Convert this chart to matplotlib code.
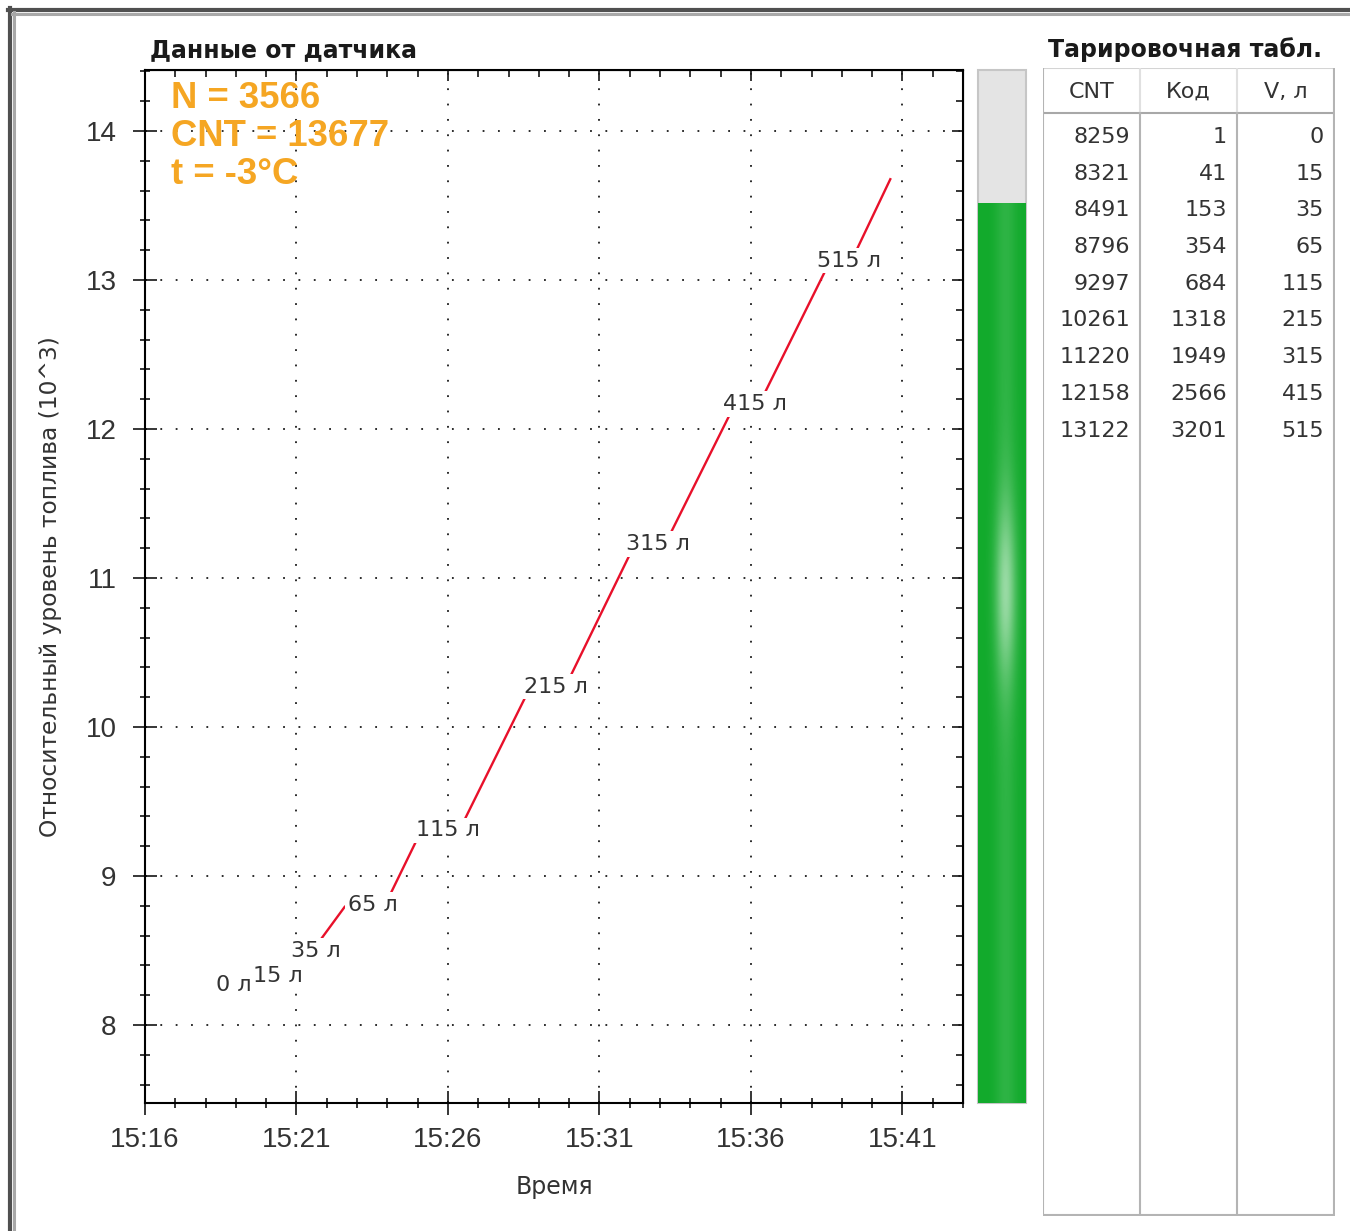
import matplotlib
matplotlib.use('Agg')
import matplotlib.pyplot as plt
from matplotlib.lines import Line2D
from matplotlib.ticker import MultipleLocator, FuncFormatter, NullFormatter
import numpy as np
from datetime import datetime, timedelta

plt.rcParams['font.family'] = ['Liberation Sans', 'DejaVu Sans']

# sensor trace: minutes after 15:16 and CNT value
t_min = [2.35, 2.95, 3.1, 5.15, 5.25, 5.5, 6.6, 7.9, 9.1, 10.35, 12.7, 13.85,
         16.15, 17.15, 19.45, 20.25, 22.6, 23.3, 24.6]
cnt_trace = [8259, 8259, 8321, 8321, 8491, 8491, 8796, 8796, 9297, 9297,
             10261, 10261, 11220, 11220, 12158, 12158, 13122, 13122, 13677]

# calibration table
cal_cnt = [8259, 8321, 8491, 8796, 9297, 10261, 11220, 12158, 13122]
cal_code = [1, 41, 153, 354, 684, 1318, 1949, 2566, 3201]
cal_vol = [0, 15, 35, 65, 115, 215, 315, 415, 515]
table_head = ['CNT', 'Код', 'V, л']

# current readings
n_value = 3566
n_max = 4095
cnt_now = 13677
temp_c = -3

base = datetime(2024, 1, 1, 15, 16)
W, H = 1350, 1231
TXT = '#333333'


def fr(x0, y0, x1, y1):
    # pixel box -> figure fraction rect
    return [x0 / W, 1 - y1 / H, (x1 - x0) / W, (y1 - y0) / H]


fig = plt.figure(figsize=(W / 100, H / 100), dpi=100)

# window frame
fig.add_artist(Line2D([10 / W, 10 / W], [0, 1 - 8 / H], transform=fig.transFigure, color='#505050', lw=3))
fig.add_artist(Line2D([8 / W, 1], [1 - 10 / H, 1 - 10 / H], transform=fig.transFigure, color='#505050', lw=3))
fig.add_artist(Line2D([13.5 / W, 13.5 / W], [0, 1 - 12 / H], transform=fig.transFigure, color='#a8a8a8', lw=2.2))
fig.add_artist(Line2D([12 / W, 1], [1 - 13.5 / H, 1 - 13.5 / H], transform=fig.transFigure, color='#a8a8a8', lw=2.2))

# ---- sensor chart
ax = fig.add_axes(fr(145, 70, 963, 1103))
y_trace = np.array(cnt_trace) / 1000
ax.plot(t_min, y_trace, color='#e8102a', lw=1.7, zorder=3)

for i, v in enumerate(cal_vol):
    tm = (t_min[2 * i] + t_min[2 * i + 1]) / 2
    ax.annotate(f'{v} л', (tm, cal_cnt[i] / 1000), xytext=(6, 1), textcoords='offset points',
                ha='center', va='center', fontsize=16, color=TXT, family='DejaVu Sans',
                bbox=dict(fc='white', ec='none', pad=2.0), zorder=4)

ax.set_xlim(0, 27.0)
ax.set_ylim(7.477, 14.41)

time_fmt = FuncFormatter(lambda v, p: (base + timedelta(minutes=v)).strftime('%H:%M'))
ax.xaxis.set_major_locator(MultipleLocator(5))
ax.xaxis.set_minor_locator(MultipleLocator(1))
ax.xaxis.set_major_formatter(time_fmt)
ax.yaxis.set_major_locator(MultipleLocator(1))
ax.yaxis.set_minor_locator(MultipleLocator(0.2))
ax.tick_params(which='major', direction='inout', length=17, width=1.1, labelsize=20, labelcolor=TXT)
ax.tick_params(which='minor', direction='inout', length=7, width=1.1)
ax.tick_params(axis='x', pad=9)
ax.tick_params(axis='y', pad=12)
ax.grid(which='major', color='#1a1a1a', linestyle=(0, (1, 7.5)), lw=1.3)
for s in ax.spines.values():
    s.set_linewidth(1.5)

top = ax.secondary_xaxis('top')
top.xaxis.set_major_locator(MultipleLocator(5))
top.xaxis.set_minor_locator(MultipleLocator(1))
top.xaxis.set_major_formatter(NullFormatter())
top.tick_params(which='major', direction='in', length=8, width=1.1)
top.tick_params(which='minor', direction='in', length=5, width=1.1)
right = ax.secondary_yaxis('right')
right.yaxis.set_major_locator(MultipleLocator(1))
right.yaxis.set_minor_locator(MultipleLocator(0.2))
right.yaxis.set_major_formatter(NullFormatter())
right.tick_params(which='major', direction='in', length=8, width=1.1)
right.tick_params(which='minor', direction='in', length=5, width=1.1)

ax.set_ylabel('Относительный уровень топлива (10^3)', fontsize=16.8, color=TXT, family='DejaVu Sans')
ax.yaxis.set_label_coords(-0.101, 0.5)
ax.set_xlabel('Время', fontsize=17, color=TXT, family='DejaVu Sans')
ax.xaxis.set_label_coords(0.5, -0.07)

fig.text(150 / W, 1 - 50 / H, 'Данные от датчика', fontsize=17, fontweight='bold',
         family='DejaVu Sans', color='#1a1a1a', ha='left', va='center')

orange = '#f5a623'
for k, s in enumerate([f'N = {n_value}', f'CNT = {cnt_now}', f't = {temp_c}°C']):
    fig.text(171 / W, 1 - (98 + 38.5 * k) / H, s, fontsize=26.3, fontweight='bold',
             color=orange, ha='left', va='center')

# ---- level gauge
axg = fig.add_axes(fr(978, 70, 1026, 1103))
axg.set_xlim(0, 1)
axg.set_ylim(0, n_max)
axg.axis('off')
axg.bar(0.5, n_max, width=1, color='#e4e4e4', edgecolor='#c6c6c6', lw=1.5, clip_on=False)
bar = axg.bar(0.5, n_value, width=1, color='#12aa2c', edgecolor='none', clip_on=False)[0]
xx = np.linspace(0, 1, 60)
yy = np.linspace(0, 1, 400)
X, Y = np.meshgrid(xx, yy)
glow = np.exp(-((X - 0.58) / 0.22) ** 2) * (0.12 + 0.45 * np.exp(-((Y - 0.57) / 0.1) ** 2))
rgba = np.ones((400, 60, 4))
rgba[..., 3] = glow
im = axg.imshow(rgba, extent=[0, 1, 0, n_value], origin='lower', aspect='auto', zorder=3)
im.set_clip_path(bar)

# ---- calibration table
fig.text(1048 / W, 1 - 50 / H, 'Тарировочная табл.', fontsize=17, fontweight='bold',
         family='DejaVu Sans', color='#1a1a1a', ha='left', va='center')
axt = fig.add_axes(fr(1043, 68, 1335, 1216))
axt.set_xlim(0, 292)
axt.set_ylim(1148, 0)
axt.axis('off')
col_x = [0, 97, 194, 291]
axt.plot([0, 291], [0, 0], color='#d4d4d4', lw=1.5)
axt.plot([0, 291], [45, 45], color='#a8a8a8', lw=1.5)
for cx in col_x:
    c = '#b4b4b4' if cx in (0, 291) else '#e0e0e0'
    axt.plot([cx, cx], [0, 45], color=c, lw=1.5)
    axt.plot([cx, cx], [45, 1147], color='#b4b4b4', lw=1.5)
axt.plot([0, 291], [1147, 1147], color='#b4b4b4', lw=1.5)
for j, h in enumerate(table_head):
    axt.text((col_x[j] + col_x[j + 1]) / 2, 24, h, ha='center', va='center',
             fontsize=16, color=TXT, family='DejaVu Sans')
for i in range(len(cal_cnt)):
    yrow = 69 + 36.7 * i
    for j, val in enumerate([cal_cnt[i], cal_code[i], cal_vol[i]]):
        axt.text(col_x[j + 1] - 10, yrow, str(val), ha='right', va='center',
                 fontsize=16, color=TXT, family='DejaVu Sans')

fig.savefig('out.png', dpi=100, facecolor='white')
